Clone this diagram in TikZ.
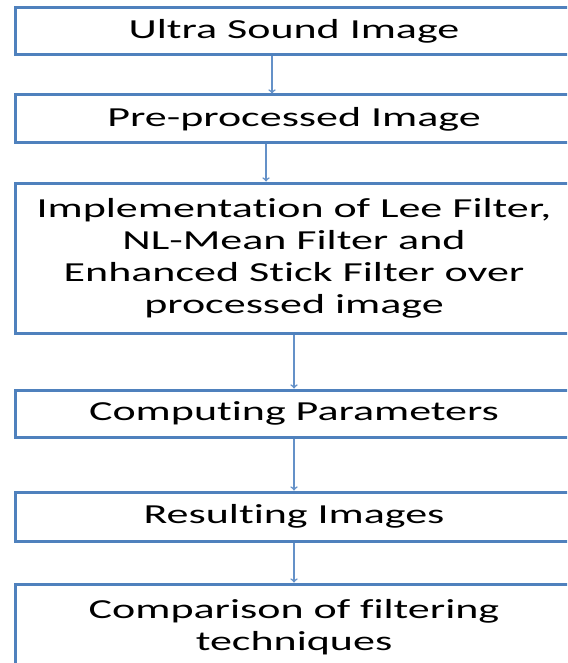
\documentclass[tikz,border=0pt]{standalone}
\usepackage{fontspec}
\setmainfont{Carlito}[FakeStretch=1.6, Ligatures=NoCommon]
\usepackage{xcolor}
\definecolor{boxblue}{RGB}{79,129,189}
\definecolor{arrowblue}{RGB}{100,145,200}

\begin{document}
\begin{tikzpicture}[x=1pt, y=-1pt,
  stage/.style={draw=boxblue, line width=3pt, fill=white, minimum width=558pt,
    align=center, inner sep=0pt, font=\fontsize{27.5}{32}\selectfont},
  flow/.style={->, draw=arrowblue, line width=1.6pt}]
  \useasboundingbox (0,0) rectangle (567,663);
  \clip (0,0) rectangle (567,663);
  % Stages
  \node[stage, minimum height=47pt] (us) at (294, 31.5) {Ultra Sound Image};
  \node[stage, minimum height=48pt] (pre) at (294, 119) {Pre-processed Image};
  \node[stage, minimum height=150pt] (impl) at (294, 258) {Implementation of Lee Filter,\\NL-Mean Filter and\\Enhanced Stick Filter over\\processed image};
  \node[stage, minimum height=47pt] (cp) at (294, 413.5) {Computing Parameters};
  \node[stage, minimum height=49pt] (res) at (294, 516.5) {Resulting Images};
  \node[stage, minimum height=86pt] (cmp) at (294, 627) {Comparison of filtering\\techniques};
  % Arrows
  \draw[flow] ([xshift=-22pt]us.south) -- ([xshift=-22pt]pre.north);
  \draw[flow] ([xshift=-28pt]pre.south) -- ([xshift=-28pt]impl.north);
  \draw[flow] (impl) -- (cp);
  \draw[flow] (cp) -- (res);
  \draw[flow] (res) -- (cmp);
\end{tikzpicture}
\end{document}
